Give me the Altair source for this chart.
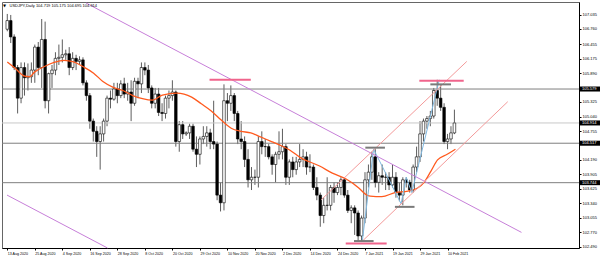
import altair as alt
import pandas as pd

# ---------------- data ----------------
opens = [106.75,106.92,106.60,106.00,105.40,106.00,105.80,105.82,105.95,106.40,
         106.00,106.55,105.35,105.88,105.95,106.18,106.20,106.25,106.27,106.00,
         106.18,106.12,106.15,105.70,105.45,104.95,104.75,104.55,104.70,104.95,
         105.40,105.38,105.58,105.45,105.68,105.48,105.52,105.30,105.73,105.68,
         106.00,105.95,105.60,105.30,105.48,105.12,105.10,105.40,105.45,105.52,
         104.55,104.88,104.70,104.72,104.85,104.40,104.30,104.60,104.65,104.72,
         104.55,104.50,103.50,103.35,105.35,105.30,105.45,105.10,104.60,104.55,
         104.20,103.80,103.85,103.85,104.55,104.45,104.45,104.25,104.10,104.30,
         104.35,104.45,103.85,104.15,104.00,104.15,104.20,104.25,104.05,104.05,
         103.65,103.50,103.10,103.30,103.30,103.65,103.55,103.65,103.80,103.50,
         103.20,103.25,103.15,102.70,103.05,103.80,103.95,104.25,103.75,103.88,
         103.85,103.85,103.70,103.85,103.55,103.50,103.80,103.75,103.60,104.05,
         104.25,104.70,104.95,105.00,105.05,105.55,105.40,105.22,104.55,104.60,
         104.719]
highs = [107.05,107.03,106.65,106.05,106.10,106.10,106.08,106.10,106.45,106.50,
         106.95,106.90,105.90,106.05,106.30,106.45,106.55,106.35,106.40,106.30,
         106.25,106.22,106.20,105.75,105.50,105.00,104.85,104.85,105.00,105.45,
         105.55,105.70,105.70,105.75,105.80,105.70,105.75,105.80,105.80,106.10,
         106.10,106.05,105.65,105.60,105.60,105.30,105.45,105.55,105.75,105.55,
         104.95,104.95,104.75,104.90,104.90,104.65,104.65,104.85,104.85,104.80,
         105.35,104.55,103.75,105.67,105.50,105.65,105.50,105.15,104.95,104.65,
         104.40,104.05,104.00,104.65,104.75,104.60,104.50,104.30,104.35,104.75,
         104.80,104.50,104.20,104.25,104.25,104.50,104.40,104.35,104.30,104.10,
         103.85,103.55,103.45,103.85,103.70,103.75,103.75,103.85,103.85,103.60,
         103.30,103.30,103.20,103.10,103.95,104.10,104.35,104.40,103.95,104.10,
         103.95,103.95,104.10,103.95,103.75,103.85,103.85,103.80,104.10,104.45,
         104.95,105.00,105.05,105.15,105.60,105.76,105.65,105.30,104.70,104.85,
         105.175]
lows = [106.71,106.48,105.95,105.10,105.30,105.45,105.55,105.70,105.70,105.85,
        105.60,105.20,105.10,105.60,105.85,106.05,106.10,106.15,105.85,105.95,
        105.95,106.05,105.65,105.35,104.80,104.55,104.25,104.00,104.55,104.85,
        105.20,105.35,105.30,105.40,105.40,105.35,104.95,105.25,105.40,105.50,
        105.85,105.50,105.20,105.20,105.05,104.95,105.00,105.20,105.35,104.45,
        104.35,104.60,104.66,104.60,104.35,104.05,104.10,104.50,104.45,104.40,
        104.40,103.40,103.18,103.20,104.95,105.15,104.95,104.50,104.40,104.05,
        103.65,103.60,103.70,103.65,104.30,104.25,104.20,103.90,103.75,104.20,
        104.20,103.70,103.70,103.85,103.90,104.05,104.05,103.90,103.95,103.60,
        103.40,102.88,102.95,103.20,103.20,103.35,103.50,103.50,103.45,103.15,
        102.95,102.72,102.60,102.59,102.95,103.65,103.80,103.65,103.55,103.70,
        103.60,103.60,103.65,103.45,103.38,103.30,103.65,103.55,103.55,103.95,
        104.15,104.55,104.80,104.85,105.00,105.25,105.15,104.50,104.40,104.50,
        104.695]
closes = [106.92,106.60,106.00,105.40,106.00,105.80,105.82,105.95,106.40,106.00,
          106.55,105.35,105.88,105.95,106.18,106.20,106.25,106.27,106.00,106.18,
          106.12,106.15,105.70,105.45,104.95,104.75,104.55,104.70,104.95,105.40,
          105.38,105.58,105.45,105.68,105.48,105.52,105.30,105.73,105.68,106.00,
          105.95,105.60,105.30,105.48,105.12,105.10,105.40,105.45,105.52,104.55,
          104.88,104.70,104.72,104.85,104.40,104.30,104.60,104.65,104.72,104.55,
          104.50,103.50,103.35,105.35,105.30,105.45,105.10,104.60,104.55,104.20,
          103.80,103.85,103.85,104.55,104.45,104.45,104.25,104.10,104.30,104.35,
          104.45,103.85,104.15,104.00,104.15,104.20,104.25,104.05,104.05,103.65,
          103.50,103.10,103.30,103.30,103.65,103.55,103.65,103.80,103.50,103.20,
          103.25,103.15,102.70,103.05,103.80,103.95,104.25,103.75,103.88,103.85,
          103.85,103.70,103.85,103.55,103.50,103.80,103.75,103.60,104.05,104.25,
          104.70,104.95,105.00,105.05,105.55,105.40,105.22,104.55,104.60,104.72,
          104.914]

# moving average (orange) read at points along the line
ma_idx = [0, 2.2, 5.1, 6.5, 7.9, 10.8, 13.6, 16.5, 19.3, 22.2, 25.1, 27.9, 30.8,
          33.6, 36.5, 39.3, 42.2, 45.1, 49.3, 53.6, 56.4, 59.3, 62.2, 65.1, 67.9,
          70.8, 73.6, 76.5, 79.3, 82.2, 85.1, 90.8, 94.5, 98.4, 102.2, 104.1,
          105.5, 108.9, 112.7, 116.5, 119.3, 121.3, 123.1, 125.1, 127.9, 130.3]
ma_val = [106.11, 105.99, 105.83, 105.82, 105.91, 106.02, 106.10, 106.14, 106.11,
          106.01, 105.89, 105.72, 105.61, 105.55, 105.45, 105.39, 105.36, 105.46,
          105.50, 105.42, 105.29, 105.15, 104.97, 104.81, 104.75, 104.72, 104.64,
          104.56, 104.48, 104.38, 104.24, 104.07, 103.93, 103.82, 103.64, 103.52,
          103.48, 103.47, 103.55, 103.58, 103.64, 103.76, 103.96, 104.19, 104.30,
          104.40]

# zigzag (blue)
zz_idx = [103.2, 106.5, 114.5, 116.0, 117.6, 125.6]
zz_val = [102.59, 104.40, 103.33, 103.85, 103.55, 105.76]

x_tick_idx = [0, 8, 16, 24, 32, 40, 48, 56, 64, 72, 80, 88, 96, 104, 112, 120, 128]
x_tick_labels = ["13 Aug 2020", "25 Aug 2020", "4 Sep 2020", "16 Sep 2020",
                 "28 Sep 2020", "8 Oct 2020", "20 Oct 2020", "29 Oct 2020",
                 "10 Nov 2020", "20 Nov 2020", "2 Dec 2020", "14 Dec 2020",
                 "24 Dec 2020", "7 Jan 2021", "19 Jan 2021", "29 Jan 2021",
                 "10 Feb 2021"]
y_tick_vals = [107.035, 106.760, 106.455, 106.175, 105.890, 105.325, 105.040,
               104.755, 104.190, 103.905, 103.625, 103.340, 103.055, 102.770,
               102.490]

hline_prices = [105.579, 104.517, 103.744]
bid_price = [104.914]
tag_prices = [105.579, 104.914, 104.517, 103.744]

# trend lines: start index, start price, end index, end price
purple_x1 = [22.9, -0.086]
purple_y1 = [107.264, 103.501]
purple_x2 = [149.5, 29.11]
purple_y2 = [102.77, 102.465]
chan_x1 = [91.3, 103.1]
chan_y1 = [103.41, 102.59]
chan_x2 = [133.6, 145.5]
chan_y2 = [106.12, 105.33]

# short horizontal marks: from index, to index, price
pink_from = [58.8, 119.8, 98.4]
pink_to = [70.8, 132.7, 110.3]
pink_price = [105.76, 105.74, 102.55]
grey_from = [123.0, 104.1, 112.7, 100.8]
grey_to = [129.0, 109.8, 118.4, 106.5]
grey_price = [105.67, 104.43, 103.27, 102.60]

title_text = "USDJPY,Daily  104.719 105.175 104.695 104.914"

# ---------------- chart ----------------
FONT = "Liberation Sans"
n = len(closes)
candles = pd.DataFrame({"i": list(range(n)), "o": opens, "h": highs,
                        "l": lows, "c": closes})
ma_df = pd.DataFrame({"i": ma_idx, "v": ma_val})
zz_df = pd.DataFrame({"i": zz_idx, "v": zz_val})
purple_df = pd.DataFrame({"x1": purple_x1, "y1": purple_y1, "x2": purple_x2, "y2": purple_y2})
chan_df = pd.DataFrame({"x1": chan_x1, "y1": chan_y1, "x2": chan_x2, "y2": chan_y2})
pink_df = pd.DataFrame({"x1": pink_from, "x2": pink_to, "p": pink_price})
grey_df = pd.DataFrame({"x1": grey_from, "x2": grey_to, "p": grey_price})
hl_df = pd.DataFrame({"p": hline_prices})
bid_df = pd.DataFrame({"p": bid_price})
tag_df = pd.DataFrame({"p": tag_prices, "t": [f"{v:.3f}" for v in tag_prices]})
title_df = pd.DataFrame({"t": [title_text]})

W, H = 577, 246
xs = alt.Scale(domain=[-0.086, 164.77], nice=False, zero=False)
ys = alt.Scale(domain=[102.464, 107.284], nice=False, zero=False)

label_arr = "[" + ",".join(f"'{s}'" for s in x_tick_labels) + "]"
xaxis = alt.Axis(values=x_tick_idx, labelExpr=f"{label_arr}[round(datum.value/8)]",
                 title=None, grid=False, tickSize=2, tickColor="#000",
                 domainColor="#000", labelFontSize=3.6, labelFont=FONT,
                 labelColor="#000", labelAlign="left", labelBaseline="top",
                 labelPadding=1, labelOverlap=False, labelFlush=False, orient="bottom")
yaxis = alt.Axis(values=y_tick_vals, format=".3f", title=None, grid=False,
                 tickSize=2, tickColor="#000", domainColor="#000",
                 labelFontSize=4, labelFont=FONT, labelColor="#000",
                 labelPadding=1, labelOverlap=False, labelFlush=False, orient="right")


def X(field):
    return alt.X(field, type="quantitative", scale=xs, axis=xaxis)


def Y(field):
    return alt.Y(field, type="quantitative", scale=ys, axis=yaxis)


bid = alt.Chart(bid_df).mark_rule(color="#c8c8c8", strokeWidth=1).encode(y=Y("p"))
hl = alt.Chart(hl_df).mark_rule(color="#7f7f7f", strokeWidth=1).encode(y=Y("p"))

wicks = alt.Chart(candles).mark_rule(color="#333333", strokeWidth=0.8).encode(
    x=X("i"), y=Y("l"), y2="h:Q")
bodies = alt.Chart(candles).mark_bar(width=2.6, stroke="#000", strokeWidth=0.6).encode(
    x=X("i"), y=Y("o"), y2="c:Q",
    fill=alt.condition("datum.c >= datum.o", alt.value("#ffffff"), alt.value("#000000")))

ma = alt.Chart(ma_df).mark_line(color="#ff5a1e", strokeWidth=1.3, interpolate="monotone").encode(
    x=X("i"), y=Y("v"))
zz = alt.Chart(zz_df).mark_line(color="#7fb8e0", strokeWidth=1).encode(x=X("i"), y=Y("v"))

purple = alt.Chart(purple_df).mark_rule(color="#c77fd9", strokeWidth=1).encode(
    x=X("x1"), x2="x2:Q", y=Y("y1"), y2="y2:Q")
chan = alt.Chart(chan_df).mark_rule(color="#f49a9a", strokeWidth=1).encode(
    x=X("x1"), x2="x2:Q", y=Y("y1"), y2="y2:Q")
pink = alt.Chart(pink_df).mark_rule(color="#f0648c", strokeWidth=2).encode(
    x=X("x1"), x2="x2:Q", y=Y("p"))
grey = alt.Chart(grey_df).mark_rule(color="#7a7a7a", strokeWidth=2).encode(
    x=X("x1"), x2="x2:Q", y=Y("p"))

tag_box = alt.Chart(tag_df).mark_rule(color="#000", strokeWidth=5).encode(
    x=alt.value(W + 0.3), x2=alt.value(W + 21), y=Y("p"))
tag_txt = alt.Chart(tag_df).mark_text(align="left", baseline="middle", fontSize=4,
                                      font=FONT, color="#ffffff").encode(
    x=alt.value(W + 3), y=Y("p"), text="t:N")

title_tri = alt.Chart(title_df).mark_text(align="left", baseline="middle", fontSize=4,
                                          font="DejaVu Sans", color="#000").encode(
    x=alt.value(1), y=alt.value(3.5), text=alt.value("▼"))
title_mark = alt.Chart(title_df).mark_text(align="left", baseline="middle", fontSize=4,
                                           font=FONT, color="#000").encode(
    x=alt.value(7.5), y=alt.value(3.5), text="t:N")

chart = alt.layer(
    wicks, bid, hl, bodies, ma, zz, purple, chan, pink, grey,
    tag_box, tag_txt, title_tri, title_mark
).properties(
    width=W, height=H,
    autosize=alt.AutoSizeParams(type="none"),
    padding={"left": 2, "top": 2, "right": 21, "bottom": 10},
    background="#ffffff",
).configure_view(stroke="#666666", strokeWidth=1)

chart.save("out.html", embed_options={"renderer": "svg", "actions": False})
